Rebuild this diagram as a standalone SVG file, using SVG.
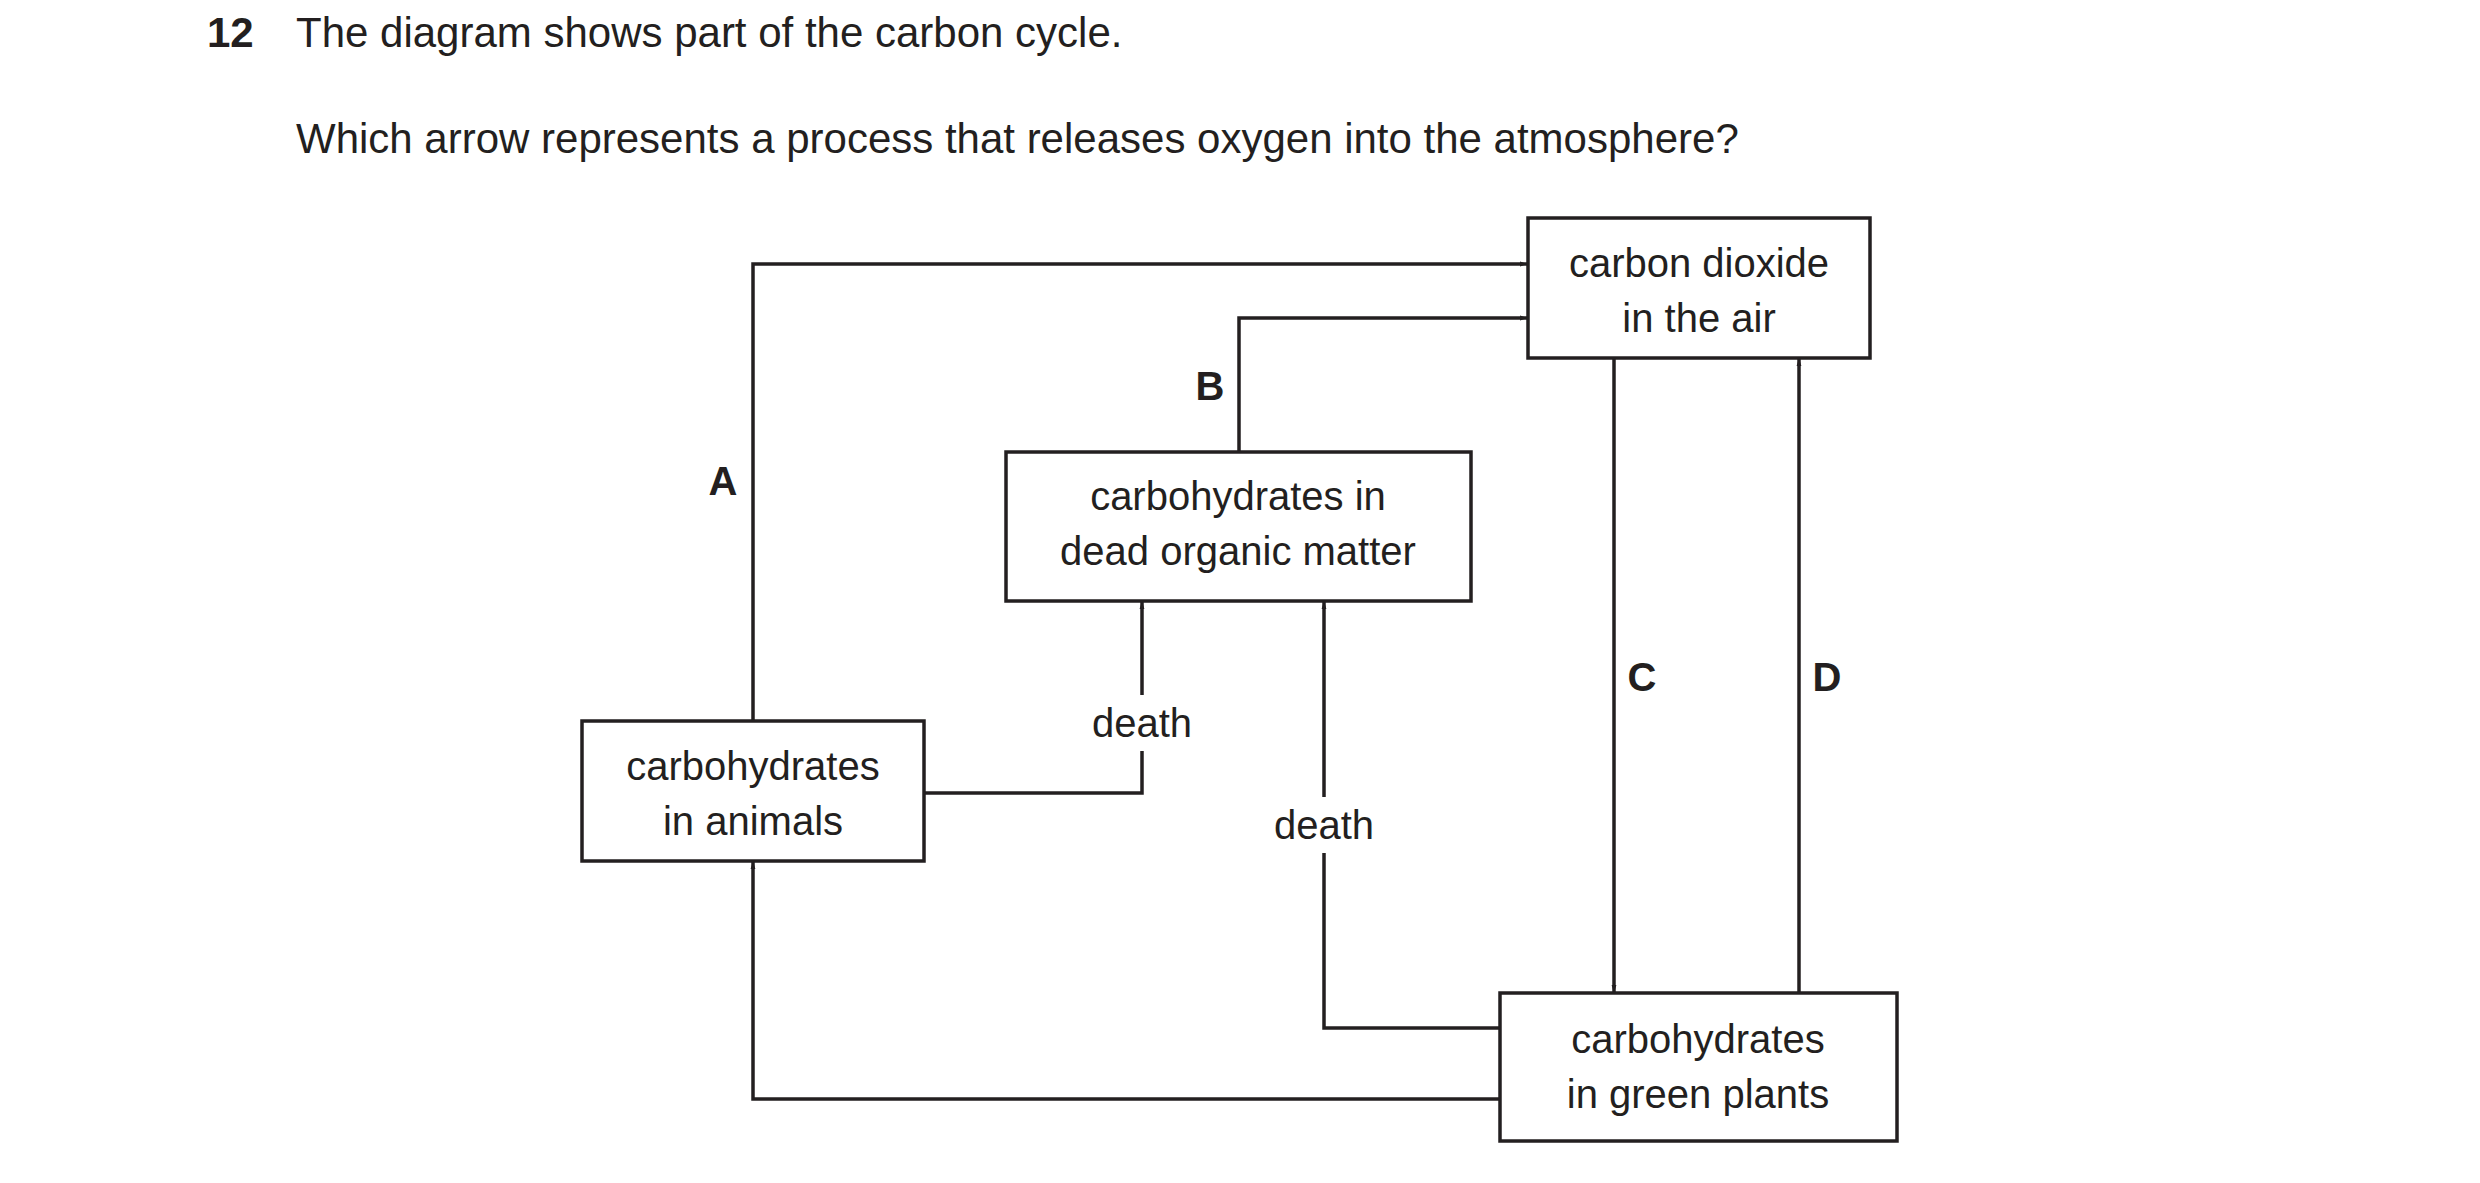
<svg xmlns="http://www.w3.org/2000/svg" width="2480" height="1183" viewBox="0 0 2480 1183">
<defs>
<marker id="ah" viewBox="0 0 10 10" refX="10" refY="5" markerWidth="8" markerHeight="8" markerUnits="userSpaceOnUse" orient="auto"><path d="M0,2 L10,5 L0,8 z" fill="#231f20"/></marker>
<style>
text{font-family:"Liberation Sans",Arial,sans-serif;fill:#231f20}
.t{font-size:42px}
.n{font-size:40px;text-anchor:middle}
.b{font-size:40px;font-weight:bold;text-anchor:middle}
rect{fill:#fff;stroke:#231f20;stroke-width:3.5}
.c path{fill:none;stroke:#231f20;stroke-width:3.5}
.lb{fill:#fff;stroke:none}
</style>
</defs>
<rect width="2480" height="1183" style="fill:#fff;stroke:none"/>
<text class="t" x="207" y="47" font-weight="bold">12</text>
<text class="t" x="296" y="47">The diagram shows part of the carbon cycle.</text>
<text class="t" x="296" y="153">Which arrow represents a process that releases oxygen into the atmosphere?</text>
<g class="c" id="connectors">
<path d="M753,721 V264 H1528" marker-end="url(#ah)" style="stroke-linejoin:miter"/>
<path d="M1239,452 V318 H1528" marker-end="url(#ah)"/>
<path d="M924,793 H1142 V601" marker-end="url(#ah)"/>
<path d="M1500,1028 H1324 V601" marker-end="url(#ah)"/>
<path d="M1500,1099 H753 V861" marker-end="url(#ah)"/>
<path d="M1614,358 V993" marker-end="url(#ah)"/>
<path d="M1799,993 V358" marker-end="url(#ah)"/>
<rect class="lb" x="1082" y="695" width="120" height="56"/>
<text class="n" x="1142" y="737">death</text>
<rect class="lb" x="1264" y="797" width="120" height="56"/>
<text class="n" x="1324" y="839">death</text>
<text class="b" x="723" y="495">A</text>
<text class="b" x="1210" y="400">B</text>
<text class="b" x="1642" y="691">C</text>
<text class="b" x="1827" y="691">D</text>
</g>
<g id="co2"><rect x="1528" y="218" width="342" height="140"/><text class="n" x="1699" y="277">carbon dioxide</text><text class="n" x="1699" y="332">in the air</text></g>
<g id="dead"><rect x="1006" y="452" width="465" height="149"/><text class="n" x="1238" y="510">carbohydrates in</text><text class="n" x="1238" y="565">dead organic matter</text></g>
<g id="animals"><rect x="582" y="721" width="342" height="140"/><text class="n" x="753" y="780">carbohydrates</text><text class="n" x="753" y="835">in animals</text></g>
<g id="plants"><rect x="1500" y="993" width="397" height="148"/><text class="n" x="1698" y="1053">carbohydrates</text><text class="n" x="1698" y="1108">in green plants</text></g>
</svg>
